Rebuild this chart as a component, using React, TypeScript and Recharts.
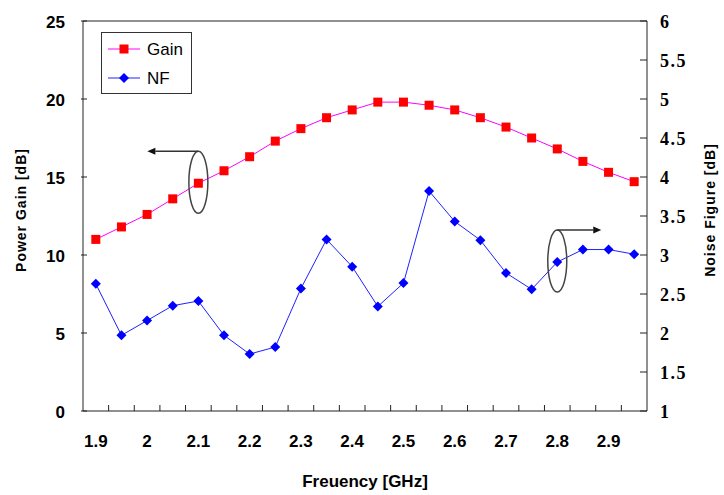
import React from "react";
import { ComposedChart, Line, XAxis, YAxis, ReferenceLine, ReferenceDot } from "recharts";

const freqs = [1.9, 1.95, 2, 2.05, 2.1, 2.15, 2.2, 2.25, 2.3, 2.35, 2.4, 2.45, 2.5, 2.55, 2.6, 2.65, 2.7, 2.75, 2.8, 2.85, 2.9, 2.95];
const gainValues = [11.0, 11.8, 12.6, 13.6, 14.6, 15.4, 16.3, 17.3, 18.1, 18.8, 19.3, 19.8, 19.8, 19.6, 19.3, 18.8, 18.2, 17.5, 16.8, 16.0, 15.3, 14.7];
const nfValues = [2.63, 1.97, 2.16, 2.35, 2.41, 1.97, 1.73, 1.82, 2.57, 3.2, 2.85, 2.34, 2.64, 3.82, 3.43, 3.19, 2.77, 2.56, 2.91, 3.07, 3.07, 3.01];
const xTickLabels = [1.9, 2, 2.1, 2.2, 2.3, 2.4, 2.5, 2.6, 2.7, 2.8, 2.9];
const leftTicks = [0, 5, 10, 15, 20, 25];
const rightTicks = [1, 1.5, 2, 2.5, 3, 3.5, 4, 4.5, 5, 5.5, 6];

const data = freqs.map((f, i) => ({ f, gain: gainValues[i], nf: nfValues[i] }));
const half = (freqs[1] - freqs[0]) / 2;
const boundaryTicks = freqs.slice(0, -1).map((f, i) => (f + freqs[i + 1]) / 2);
const xTicks = [...xTickLabels, ...boundaryTicks];

const SANS = "'Liberation Sans', Arial, sans-serif";
const SERIF = "'Liberation Serif', 'Times New Roman', serif";
const AX = "#222";

const XTick = (props: any) => {
  const { x, y, payload } = props;
  const v = payload.value;
  if (xTickLabels.includes(v)) {
    return (
      <text x={x} y={y + 36} textAnchor="middle" style={{ fontFamily: SANS, fontWeight: 700, fontSize: 17 }} fill="#000">
        {String(v)}
      </text>
    );
  }
  return <line x1={x} x2={x} y1={y} y2={y - 6} stroke={AX} strokeWidth={1} />;
};

const LeftTick = (props: any) => {
  const { x, y, payload } = props;
  return (
    <g>
      <line x1={x - 2} x2={x + 4} y1={y} y2={y} stroke={AX} strokeWidth={1} />
      <text x={x - 18} y={y + 6.5} textAnchor="end" style={{ fontFamily: SANS, fontWeight: 700, fontSize: 17 }} fill="#000">
        {String(payload.value)}
      </text>
    </g>
  );
};

const RightTick = (props: any) => {
  const { x, y, payload } = props;
  return (
    <g>
      <line x1={x - 7} x2={x} y1={y} y2={y} stroke={AX} strokeWidth={1} />
      <text x={x + 13} y={y + 7} textAnchor="start" style={{ fontFamily: SERIF, fontWeight: 700, fontSize: 18, letterSpacing: 1.5 }} fill="#000">
        {String(payload.value)}
      </text>
    </g>
  );
};

const GainDot = (props: any) => {
  const { cx, cy, index } = props;
  if (cx == null || cy == null) return null;
  return <rect key={`g${index}`} x={cx - 4.5} y={cy - 4.5} width={9} height={9} fill="#ff0000" />;
};

const NfDot = (props: any) => {
  const { cx, cy, index } = props;
  if (cx == null || cy == null) return null;
  const r = 5;
  return (
    <polygon
      key={`n${index}`}
      points={`${cx},${cy - r} ${cx + r},${cy} ${cx},${cy + r} ${cx - r},${cy}`}
      fill="#0000ff"
    />
  );
};

const makeCallout = (dir: number, len: number) => (props: any) => {
  const { cx, cy } = props;
  if (cx == null || cy == null) return null;
  const rx = 9.5;
  const ry = 31;
  const ey = cy - 1;
  const topY = ey - ry;
  const tipX = cx + dir * len;
  const headLen = 8;
  return (
    <g>
      <ellipse cx={cx} cy={ey} rx={rx} ry={ry} fill="none" stroke="#444" strokeWidth={1.5} />
      <line x1={cx} y1={topY} x2={tipX - dir * headLen} y2={topY} stroke="#333" strokeWidth={1.5} />
      <polygon
        points={`${tipX},${topY} ${tipX - dir * headLen},${topY - 3.5} ${tipX - dir * headLen},${topY + 3.5}`}
        fill="#111"
      />
    </g>
  );
};

export default function App() {
  return (
    <div style={{ position: "absolute", left: 0, top: 0, width: 724, height: 495, background: "#fff" }}>
      <ComposedChart
        width={724}
        height={495}
        data={data}
        margin={{ top: 21, right: 17, bottom: 24, left: 23 }}
      >
        <XAxis
          dataKey="f"
          type="number"
          domain={[freqs[0] - half, freqs[freqs.length - 1] + half]}
          ticks={xTicks}
          interval={0}
          tickLine={false}
          tickSize={0}
          tickMargin={0}
          tick={<XTick />}
          height={60}
          axisLine={{ stroke: AX, strokeWidth: 1 }}
          allowDataOverflow
        />
        <YAxis
          yAxisId="left"
          domain={[0, 25]}
          ticks={leftTicks}
          interval={0}
          tickLine={false}
          tickSize={0}
          tickMargin={0}
          tick={<LeftTick />}
          width={60}
          axisLine={{ stroke: AX, strokeWidth: 1 }}
        />
        <YAxis
          yAxisId="right"
          orientation="right"
          domain={[1, 6]}
          ticks={rightTicks}
          interval={0}
          tickLine={false}
          tickSize={0}
          tickMargin={0}
          tick={<RightTick />}
          width={60}
          axisLine={{ stroke: AX, strokeWidth: 1 }}
        />
        <ReferenceLine yAxisId="left" y={25} stroke={AX} strokeWidth={1} />
        <Line
          yAxisId="left"
          dataKey="gain"
          stroke="#ff00ff"
          strokeWidth={1}
          dot={<GainDot />}
          activeDot={false}
          isAnimationActive={false}
        />
        <Line
          yAxisId="right"
          dataKey="nf"
          stroke="#2020ff"
          strokeWidth={1}
          dot={<NfDot />}
          activeDot={false}
          isAnimationActive={false}
        />
        <ReferenceDot yAxisId="left" x={freqs[4]} y={gainValues[4]} shape={makeCallout(-1, 51)} />
        <ReferenceDot yAxisId="right" x={freqs[18]} y={nfValues[18]} shape={makeCallout(1, 44)} />
      </ComposedChart>
      <svg
        width={724}
        height={495}
        style={{ position: "absolute", left: 0, top: 0, pointerEvents: "none" }}
      >
        <rect x={101.5} y={32.5} width={90} height={61} fill="#fff" stroke="#333" strokeWidth={1} />
        <line x1={108} x2={140} y1={49} y2={49} stroke="#ff00ff" strokeWidth={1} />
        <rect x={119.5} y={44.5} width={9} height={9} fill="#ff0000" />
        <text x={147} y={55} style={{ fontFamily: SANS, fontSize: 17 }} fill="#000">Gain</text>
        <line x1={108} x2={140} y1={78} y2={78} stroke="#2020ff" strokeWidth={1} />
        <polygon points="124,73 129,78 124,83 119,78" fill="#0000ff" />
        <text x={147} y={84} style={{ fontFamily: SANS, fontSize: 17 }} fill="#000">NF</text>
        <text
          x={21}
          y={210}
          transform="rotate(-90 21 210)"
          textAnchor="middle"
          dominantBaseline="central"
          style={{ fontFamily: SANS, fontWeight: 700, fontSize: 14, letterSpacing: 1 }}
          fill="#000"
        >
          Power Gain [dB]
        </text>
        <text
          x={710}
          y={210}
          transform="rotate(-90 710 210)"
          textAnchor="middle"
          dominantBaseline="central"
          style={{ fontFamily: SANS, fontWeight: 700, fontSize: 14, letterSpacing: 1 }}
          fill="#000"
        >
          Noise Figure [dB]
        </text>
        <text x={365} y={487} textAnchor="middle" style={{ fontFamily: SANS, fontWeight: 700, fontSize: 17 }} fill="#000">
          Freuency [GHz]
        </text>
      </svg>
    </div>
  );
}
